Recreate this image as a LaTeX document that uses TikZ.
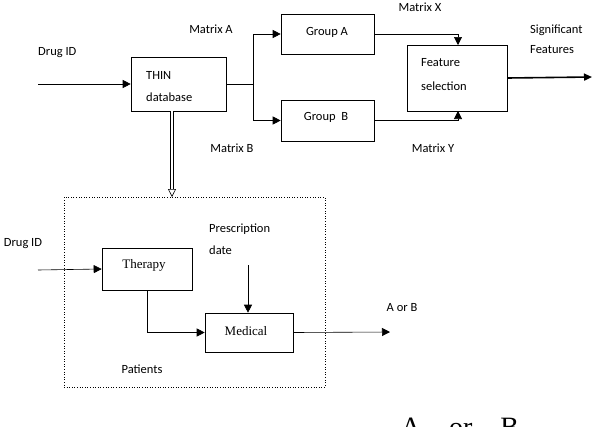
\documentclass[tikz,border=0pt]{standalone}
\usepackage{fontspec}
\setmainfont{Carlito}
\newfontfamily\tms{Liberation Serif}
\usetikzlibrary{arrows.meta}
\begin{document}
\begin{tikzpicture}[x=1pt,y=-1pt,
 box/.style={draw,semithick,inner sep=0},
 lab/.style={font=\fontsize{12.5}{14}\selectfont,inner sep=0,align=left},
 ar/.style={-{Triangle[length=8pt,width=8pt]},semithick}]
\useasboundingbox (0,0) rectangle (600,426);
\clip (0,0) rectangle (600,426);
\node[box,minimum width=95pt,minimum height=54pt] (thin) at (178.5,84) {};
\node[lab,anchor=west] at (146,75) {THIN};
\node[lab,anchor=west] at (146,97) {database};
\node[box,minimum width=93pt,minimum height=40pt] (ga) at (327.5,34) {};
\node[lab] at (327,32) {Group A};
\node[box,minimum width=93pt,minimum height=41pt] (gb) at (327.5,120.5) {};
\node[lab] at (326,117) {Group\ \ B};
\node[box,minimum width=100pt,minimum height=66pt] (fs) at (457,78) {};
\node[lab,anchor=west] at (421,63) {Feature};
\node[lab,anchor=west] at (421,86) {selection};
\coordinate (d1) at (38,84);
\node[lab,anchor=west] at (38,53) {Drug ID};
\draw[ar] (d1) -- (thin.west);
\coordinate (br) at (253,84);
\draw[semithick] (thin.east) -- (br);
\draw[ar] (br) |- (ga.west);
\draw[ar] (br) |- (gb.west);
\draw[ar] (ga.east) -| (458,45);
\draw[ar] (gb.east) -| (458,111);
\coordinate (sig) at (592,77);
\draw[-{Triangle[length=8pt,width=7pt]},line width=1.6pt] (fs.east) -- (sig);
\node[lab,anchor=west] at (530,30) {Significant};
\node[lab,anchor=west] at (530,50) {Features};
\node[lab] at (211,29) {Matrix A};
\node[lab] at (420,7) {Matrix X};
\node[lab] at (232,148) {Matrix B};
\node[lab] at (433,148) {Matrix Y};
\node[draw,dotted,semithick,minimum width=261pt,minimum height=190pt,inner sep=0] (dot) at (194.5,292) {};
\draw[double,semithick,double distance=2pt,-{Triangle[open,length=8pt,width=8pt]}] (172,111) -- (172,197);
\node[box,minimum width=90pt,minimum height=42pt] (th) at (147,269) {};
\node[font=\tms\fontsize{13}{15}\selectfont] at (144,265) {Therapy};
\node[box,minimum width=88pt,minimum height=39pt] (me) at (249,332.5) {};
\node[font=\tms\fontsize{13}{15}\selectfont] at (246,331) {Medical};
\node[lab] at (23,244) {Drug ID};
\coordinate (d2) at (38,270);
\draw[ar] (d2) -- (th.west);
\node[lab,anchor=west] at (209,229) {Prescription};
\node[lab,anchor=west] at (209,250) {date};
\coordinate (pd) at (248,265);
\draw[ar] (pd) -- (me.north -| pd);
\draw[ar] (th.south) |- (me.west);
\coordinate (ab) at (390,332);
\draw[ar] (me.east) -- (ab);
\node[lab] at (402,308) {A or B};
\node[lab] at (142,369) {Patients};
\node[font=\tms\fontsize{28}{30}\selectfont,anchor=north] at (460,414) {A\quad or\quad B};
\end{tikzpicture}
\end{document}
